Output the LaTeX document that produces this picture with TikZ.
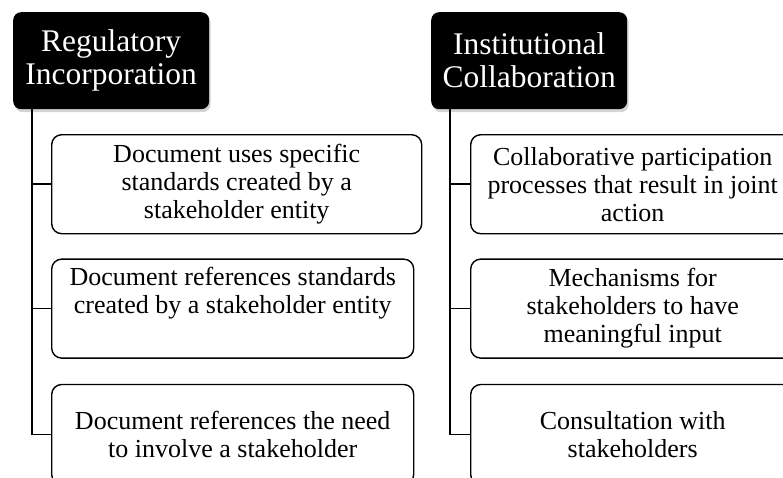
\documentclass[tikz,border=0pt]{standalone}
\usepackage{fontspec}
\setmainfont{Liberation Serif}
\usetikzlibrary{shadows,positioning}

\begin{document}
\begin{tikzpicture}
[x=1pt,y=-1pt,node distance=24pt,
head/.style={shape=rectangle,rounded corners=8pt,fill=black,text=white,
minimum width=196pt,minimum height=97pt,inner sep=0pt,align=center,
font=\fontsize{31.5}{33}\selectfont,
drop shadow={shadow xshift=1.5pt,shadow yshift=-3pt,opacity=.35}},
item/.style={shape=rectangle,rounded corners=10pt,draw=black,line width=1.4pt,
minimum height=99pt,inner sep=0pt,align=center,
font=\fontsize{26}{28}\selectfont},
link/.style={line width=1.6pt}]
%%%%%%%%%%
\useasboundingbox (0,0) rectangle (783,477);
\clip (0,0) rectangle (783,477);
%%%%% left column
%% header and items
\node (hdA) [head,anchor=north west] at (13,12) {Regulatory\\Incorporation};
\node (cA1) [item,anchor=north west,minimum width=370pt] at (51,134)
{Document uses specific\\standards created by a\\stakeholder entity};
\node (cA2) [item,below=of cA1.south west,anchor=north west,minimum width=362pt]
{Document references standards\\created by a stakeholder entity\\\strut};
\node (cA3) [item,below=25pt of cA2.south west,anchor=north west,minimum width=362pt,
minimum height=100pt]
{Document references the need\\to involve a stakeholder};
%% links
\draw[link] ([xshift=19pt]hdA.south west) |- (cA1.west);
\draw[link] ([xshift=19pt]hdA.south west) |- (cA2.west);
\draw[link] ([xshift=19pt]hdA.south west) |- (cA3.west);
%%%%% right column
%% header and items
\node (hdB) [head,anchor=north west] at (431,12) {Institutional\\Collaboration};
\node (cB1) [item,anchor=north west,minimum width=324pt] at (470,134)
{Collaborative participation\\processes that result in joint\\action};
\node (cB2) [item,below=of cB1.south west,anchor=north west,minimum width=324pt]
{Mechanisms for\\stakeholders to have\\meaningful input};
\node (cB3) [item,below=25pt of cB2.south west,anchor=north west,minimum width=324pt,
minimum height=100pt]
{Consultation with\\stakeholders};
%% links
\draw[link] ([xshift=19pt]hdB.south west) |- (cB1.west);
\draw[link] ([xshift=19pt]hdB.south west) |- (cB2.west);
\draw[link] ([xshift=19pt]hdB.south west) |- (cB3.west);
\end{tikzpicture}
\end{document}
